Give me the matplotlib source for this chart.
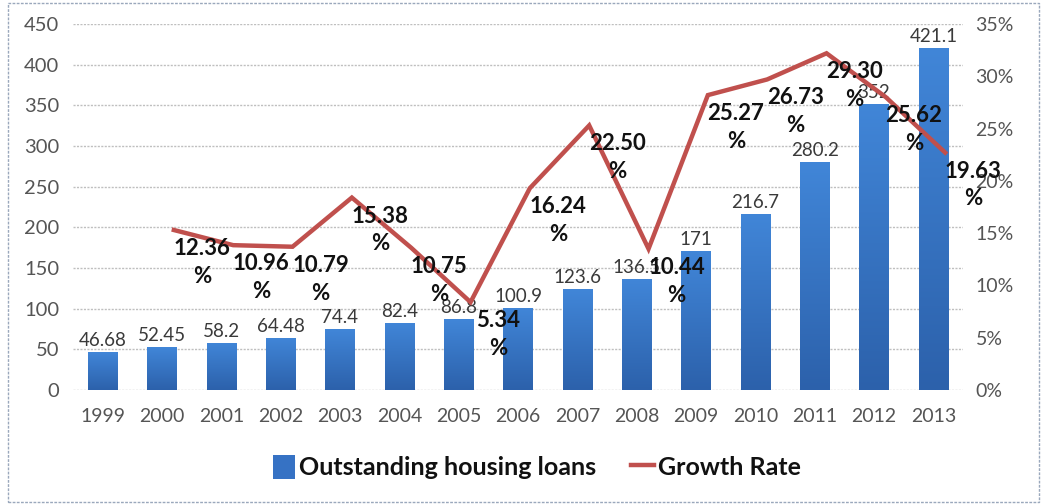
import matplotlib
matplotlib.use("Agg")
import matplotlib.pyplot as plt
import numpy as np
from matplotlib.patches import Rectangle
from matplotlib.lines import Line2D
from matplotlib.colors import LinearSegmentedColormap

years = ["1999", "2000", "2001", "2002", "2003", "2004", "2005", "2006",
         "2007", "2008", "2009", "2010", "2011", "2012", "2013"]
loans = [46.68, 52.45, 58.2, 64.48, 74.4, 82.4, 86.8, 100.9,
         123.6, 136.5, 171, 216.7, 280.2, 352, 421.1]
loan_labels = ["46.68", "52.45", "58.2", "64.48", "74.4", "82.4", "86.8", "100.9",
               "123.6", "136.5", "171", "216.7", "280.2", "352", "421.1"]
# growth-rate data labels (2000-2013)
growth_years = years[1:]
growth_labels = ["12.36", "10.96", "10.79", "15.38", "10.75", "5.34", "16.24",
                 "22.50", "10.44", "25.27", "26.73", "29.30", "25.62", "19.63"]
# line positions as drawn in the picture (percent on right axis)
growth_line = [15.3, 13.85, 13.7, 18.4, 13.6, 8.4, 19.3,
               25.3, 13.5, 28.2, 29.7, 32.2, 28.0, 22.7]

plt.rcParams['font.family'] = ['Lato', 'DejaVu Sans']

fig = plt.figure(figsize=(10.42, 5.04), dpi=100)
ax = fig.add_axes([73/1042, 1-390/504, (963-73)/1042, (390-24)/504])
ax2 = ax.twinx()

x = np.arange(len(years))
bars = ax.bar(x, loans, width=0.5, color="#3672C4", zorder=2)

# gradient fill on the bars
cmap = LinearSegmentedColormap.from_list("g", ["#2C61AB", "#4186D8"])
grad = np.linspace(0, 1, 256).reshape(-1, 1)
for b in bars:
    bx, by, bw, bh = b.get_x(), b.get_y(), b.get_width(), b.get_height()
    im = ax.imshow(grad, cmap=cmap, origin="lower", aspect="auto",
                   extent=[bx, bx + bw, by, by + bh], zorder=2.1)
    im.set_clip_path(b)

ax.set_xlim(-0.5, 14.5)
ax.set_ylim(0, 450)
ax.set_yticks(np.arange(0, 451, 50))
ax.yaxis.grid(True, color="#BFBFBF", linestyle=(0, (1.5, 1)), linewidth=1)
ax.set_axisbelow(True)
ax.set_xticks(x)
ax.set_xticklabels(years)
for s in ax.spines.values():
    s.set_visible(False)
for s in ax2.spines.values():
    s.set_visible(False)
ax.tick_params(axis="x", length=0, labelsize=14, labelcolor="#555555", pad=13)
ax.tick_params(axis="y", length=0, labelsize=14.5, labelcolor="#555555", pad=10)

for xi, v, lab in zip(x, loans, loan_labels):
    ax.annotate(lab, (xi, v), xytext=(0, 3), textcoords="offset pixels",
                ha="center", va="bottom", fontsize=13.5, color="#3A3A3A",
                zorder=3)

ax2.set_ylim(0, 0.35)
ax2.set_yticks(np.arange(0, 0.351, 0.05))
ax2.set_yticklabels([f"{int(round(t*100))}%" for t in np.arange(0, 0.351, 0.05)])
ax2.tick_params(axis="y", length=0, labelsize=14, labelcolor="#555555", pad=9)

gx = np.arange(1, len(years)) + 0.2
gy = np.array(growth_line) / 100
ax2.plot(gx, gy, color="#C0504D", linewidth=3.2, zorder=4, solid_joinstyle="miter")
for xi, yi, lab in zip(gx, gy, growth_labels):
    ax2.annotate(lab + "\n%", (xi, yi), xytext=(28, -8), textcoords="offset pixels",
                 ha="center", va="top", fontsize=16, fontweight="bold",
                 color="#111111", linespacing=1.4, zorder=5)

handles = [Rectangle((0, 0), 1, 1, facecolor="#3672C4"),
           Line2D([0], [0], color="#C0504D", linewidth=3.2)]
fig.legend(handles, ["Outstanding housing loans", "Growth Rate"], loc="center",
           bbox_to_anchor=(0.515, 0.073), ncol=2, frameon=False,
           prop={"size": 18, "weight": "bold"}, handlelength=0.9,
           handleheight=1.1, handletextpad=0.15, columnspacing=1.4,
           labelcolor="#111111")

fig.patches.append(Rectangle((8/1042, 2/504), 1031/1042, 499/504,
                             transform=fig.transFigure, fill=False,
                             edgecolor="#9AA8BC", linewidth=1,
                             linestyle=(0, (2, 1))))

fig.savefig("out.png", dpi=100)
